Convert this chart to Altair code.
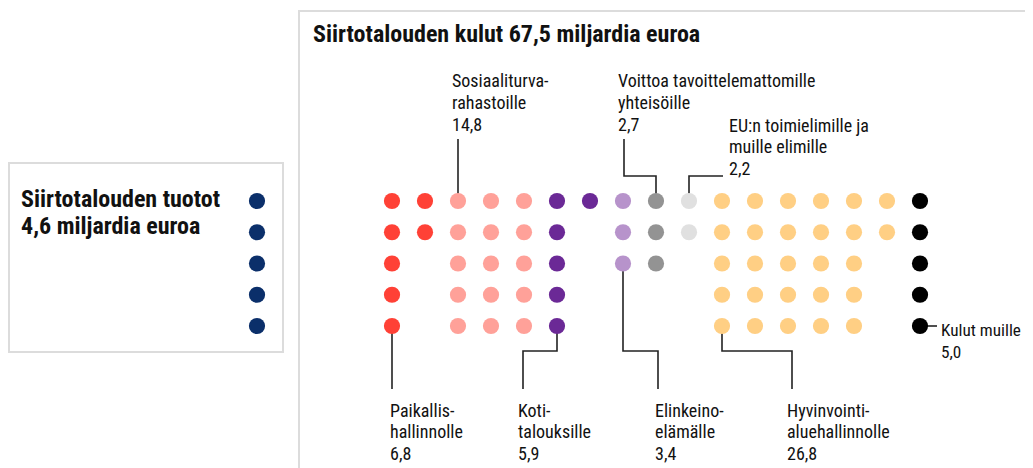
import math
import altair as alt
import pandas as pd

# ---------------- data ----------------
expense_categories = [
    "Paikallis-\nhallinnolle",
    "Sosiaaliturva-\nrahastoille",
    "Koti-\ntalouksille",
    "Elinkeino-\nelämälle",
    "Voittoa tavoittelemattomille\nyhteisöille",
    "EU:n toimielimille ja\nmuille elimille",
    "Hyvinvointi-\naluehallinnolle",
    "Kulut muille",
]
expense_values = [6.8, 14.8, 5.9, 3.4, 2.7, 2.2, 26.8, 5.0]
expense_colors = ["#ff4136", "#ffa199", "#6b2996", "#b793cb",
                  "#939393", "#e0e0e0", "#ffcf84", "#000000"]
income_value = 4.6
income_color = "#0b2f6a"
expense_title = "Siirtotalouden kulut 67,5 miljardia euroa"
income_title = "Siirtotalouden tuotot\n4,6 miljardia euroa"

# ---------------- layout ----------------
FONT = "Liberation Sans Narrow, Noto Sans Condensed, Roboto Condensed, DejaVu Sans Condensed, sans-serif"
W, H = 1017, 460
X0, DX = 392.0, 33.0      # page px of column 0, column pitch
Y0, DY = 201.0, 31.25     # page px of row 0, row pitch
ROWS = 5


def gx(px):
    return (px - X0) / DX


def gy(py):
    return (py - Y0) / DY


xscale = alt.Scale(domain=[gx(8), gx(8 + W)], nice=False, zero=False)
yscale = alt.Scale(domain=[gy(8), gy(8 + H)], nice=False, zero=False, reverse=True)

# dots for expenses: each category starts a new column, filled column-wise
dots = []
first_col = []
start = 0
for cat, val, colr in zip(expense_categories, expense_values, expense_colors):
    n = int(round(val))
    first_col.append(start)
    for i in range(n):
        dots.append({"cat": cat, "col": start + i // ROWS, "row": i % ROWS, "color": colr})
    start += math.ceil(n / ROWS)
income_col = gx(257)
for i in range(int(round(income_value))):
    dots.append({"cat": "tuotot", "col": income_col, "row": i % ROWS, "color": income_color})
dots_df = pd.DataFrame(dots)


def fmt(v):
    return f"{v:.1f}".replace(".", ",")


def cx(ci, extra=0):
    return X0 + DX * (first_col[ci] + extra)


def cy(row):
    return Y0 + DY * row


# leader lines (page px), anchored on the category's dots
TOP_ELBOW, TOP_END = 176, 139
BOT_ELBOW, BOT_END = 351, 389
paths = {
    0: [(cx(0), cy(4)), (cx(0), BOT_END)],
    1: [(cx(1), cy(0)), (cx(1), TOP_END)],
    2: [(cx(2), cy(4)), (cx(2), BOT_ELBOW), (523, BOT_ELBOW), (523, BOT_END)],
    3: [(cx(3), cy(2)), (cx(3), BOT_ELBOW), (658, BOT_ELBOW), (658, BOT_END)],
    4: [(cx(4), cy(0)), (cx(4), TOP_ELBOW), (624, TOP_ELBOW), (624, TOP_END)],
    5: [(cx(5), cy(0)), (cx(5), TOP_ELBOW), (723, TOP_ELBOW)],
    6: [(cx(6), cy(4)), (cx(6), BOT_ELBOW), (792, BOT_ELBOW), (792, BOT_END)],
    7: [(cx(7), cy(4)), (cx(7) + 17, cy(4))],
}
# (page x, first baseline y, font size)
text_pos = {
    0: (390, 416.5, 18), 1: (452, 87, 18), 2: (518, 416.5, 18), 3: (655, 416.5, 18),
    4: (618, 87, 18), 5: (729, 131.5, 18), 6: (787, 416.5, 18), 7: (941, 336, 17.2),
}
line_rows, text_rows = [], []
for ci, pts in paths.items():
    for k, (px, py) in enumerate(pts):
        line_rows.append({"id": ci, "k": k, "x": gx(px), "y": gy(py)})
for ci, (px, py, fs) in text_pos.items():
    label = expense_categories[ci] + "\n" + fmt(expense_values[ci])
    text_rows.append({"x": gx(px), "y": gy(py), "t": label, "fs": fs})
lines_df = pd.DataFrame(line_rows)
texts_df = pd.DataFrame(text_rows)
titles_df = pd.DataFrame([
    {"x": gx(313), "y": gy(42), "t": expense_title},
    {"x": gx(21), "y": gy(207), "t": income_title},
])
one = pd.DataFrame({"a": [0]})

# ---------------- chart ----------------
boxes = alt.layer(
    alt.Chart(one).mark_rect(fillOpacity=0, stroke="#dcdcdc", strokeWidth=2).encode(
        x=alt.value(1), x2=alt.value(275), y=alt.value(155), y2=alt.value(344)),
    alt.Chart(one).mark_rect(fillOpacity=0, stroke="#dcdcdc", strokeWidth=2).encode(
        x=alt.value(291), x2=alt.value(1200), y=alt.value(3), y2=alt.value(700)),
)

leaders = alt.Chart(lines_df).mark_line(color="#222222", strokeWidth=1.6, interpolate="linear").encode(
    x=alt.X("x:Q", scale=xscale, axis=None),
    y=alt.Y("y:Q", scale=yscale, axis=None),
    detail="id:N",
    order="k:Q",
)

points = alt.Chart(dots_df).mark_circle(size=262, opacity=1).encode(
    x=alt.X("col:Q", scale=xscale, axis=None),
    y=alt.Y("row:Q", scale=yscale, axis=None),
    color=alt.Color("color:N", scale=None),
)

labels = alt.Chart(texts_df).mark_text(
    align="left", baseline="alphabetic", font=FONT,
    lineBreak="\n", lineHeight=21.8, color="#111111",
).encode(
    x=alt.X("x:Q", scale=xscale, axis=None),
    y=alt.Y("y:Q", scale=yscale, axis=None),
    text="t:N",
    size=alt.Size("fs:Q", scale=None, legend=None),
)

titles = alt.Chart(titles_df).mark_text(
    align="left", baseline="alphabetic", font=FONT, fontSize=24, fontWeight="bold",
    lineBreak="\n", lineHeight=26.5, color="#111111",
).encode(
    x=alt.X("x:Q", scale=xscale, axis=None),
    y=alt.Y("y:Q", scale=yscale, axis=None),
    text="t:N",
)

chart = alt.layer(boxes, leaders, points, labels, titles).properties(
    width=W, height=H,
    autosize=alt.AutoSizeParams(type="none"),
    padding=0,
    background="white",
).configure_view(stroke=None)

chart.save("out.html", embed_options={"renderer": "svg", "actions": False})
